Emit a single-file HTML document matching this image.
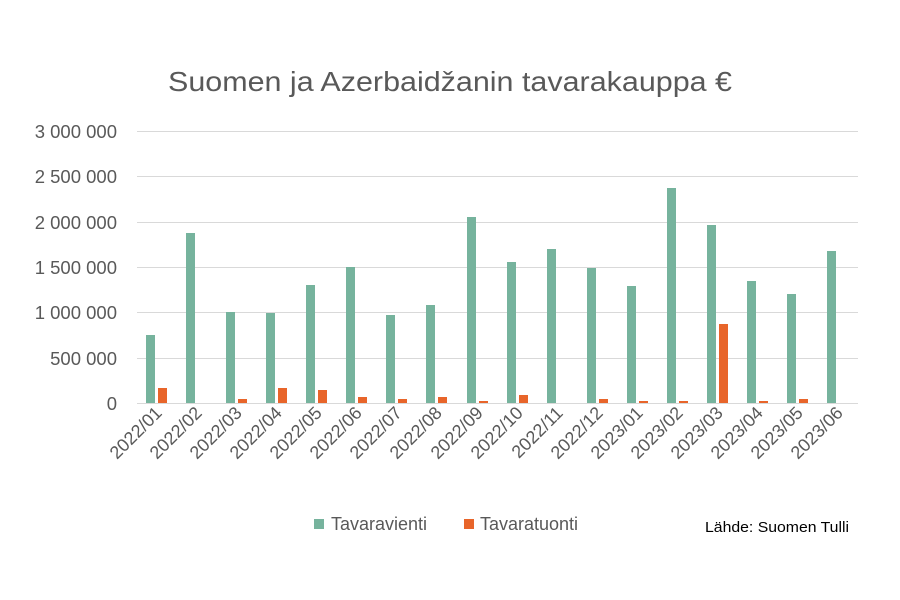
<!DOCTYPE html>
<html><head><meta charset="utf-8"><style>
body{margin:0;background:#fff}
svg{display:block;font-family:"Liberation Sans",sans-serif}
</style></head><body>
<svg width="900" height="600" viewBox="0 0 900 600">
<rect width="900" height="600" fill="#fff"/>
<text x="168" y="91" font-size="28" fill="#595959" textLength="564" lengthAdjust="spacingAndGlyphs">Suomen ja Azerbaidžanin tavarakauppa €</text>
<g stroke="#d9d9d9" stroke-width="1">
<line x1="137" x2="858" y1="131.5" y2="131.5"/>
<line x1="137" x2="858" y1="176.5" y2="176.5"/>
<line x1="137" x2="858" y1="222.5" y2="222.5"/>
<line x1="137" x2="858" y1="267.5" y2="267.5"/>
<line x1="137" x2="858" y1="312.5" y2="312.5"/>
<line x1="137" x2="858" y1="358.5" y2="358.5"/>
<line x1="137" x2="858" y1="403.5" y2="403.5"/>
</g>
<g font-size="18.5" fill="#595959" text-anchor="end">
<text x="117" y="138">3 000 000</text>
<text x="117" y="183">2 500 000</text>
<text x="117" y="229">2 000 000</text>
<text x="117" y="274">1 500 000</text>
<text x="117" y="319">1 000 000</text>
<text x="117" y="365">500 000</text>
<text x="117" y="410">0</text>
</g>
<g fill="#76b39d">
<rect x="146" y="335" width="9" height="68"/>
<rect x="186" y="233" width="9" height="170"/>
<rect x="226" y="312" width="9" height="91"/>
<rect x="266" y="313" width="9" height="90"/>
<rect x="306" y="285" width="9" height="118"/>
<rect x="346" y="267" width="9" height="136"/>
<rect x="386" y="315" width="9" height="88"/>
<rect x="426" y="305" width="9" height="98"/>
<rect x="467" y="217" width="9" height="186"/>
<rect x="507" y="262" width="9" height="141"/>
<rect x="547" y="249" width="9" height="154"/>
<rect x="587" y="268" width="9" height="135"/>
<rect x="627" y="286" width="9" height="117"/>
<rect x="667" y="188" width="9" height="215"/>
<rect x="707" y="225" width="9" height="178"/>
<rect x="747" y="281" width="9" height="122"/>
<rect x="787" y="294" width="9" height="109"/>
<rect x="827" y="251" width="9" height="152"/>
</g>
<g fill="#e8652a">
<rect x="158" y="388" width="9" height="15"/>
<rect x="238" y="399" width="9" height="4"/>
<rect x="278" y="388" width="9" height="15"/>
<rect x="318" y="390" width="9" height="13"/>
<rect x="358" y="397" width="9" height="6"/>
<rect x="398" y="399" width="9" height="4"/>
<rect x="438" y="397" width="9" height="6"/>
<rect x="479" y="401" width="9" height="2"/>
<rect x="519" y="395" width="9" height="8"/>
<rect x="599" y="399" width="9" height="4"/>
<rect x="639" y="401" width="9" height="2"/>
<rect x="679" y="401" width="9" height="2"/>
<rect x="719" y="324" width="9" height="79"/>
<rect x="759" y="401" width="9" height="2"/>
<rect x="799" y="399" width="9" height="4"/>
</g>
<g font-size="18" fill="#595959" text-anchor="end">
<text transform="translate(163,414) rotate(-45)">2022/01</text>
<text transform="translate(203,414) rotate(-45)">2022/02</text>
<text transform="translate(243,414) rotate(-45)">2022/03</text>
<text transform="translate(283,414) rotate(-45)">2022/04</text>
<text transform="translate(323,414) rotate(-45)">2022/05</text>
<text transform="translate(363,414) rotate(-45)">2022/06</text>
<text transform="translate(403,414) rotate(-45)">2022/07</text>
<text transform="translate(443,414) rotate(-45)">2022/08</text>
<text transform="translate(484,414) rotate(-45)">2022/09</text>
<text transform="translate(524,414) rotate(-45)">2022/10</text>
<text transform="translate(564,414) rotate(-45)">2022/11</text>
<text transform="translate(604,414) rotate(-45)">2022/12</text>
<text transform="translate(644,414) rotate(-45)">2023/01</text>
<text transform="translate(684,414) rotate(-45)">2023/02</text>
<text transform="translate(724,414) rotate(-45)">2023/03</text>
<text transform="translate(764,414) rotate(-45)">2023/04</text>
<text transform="translate(804,414) rotate(-45)">2023/05</text>
<text transform="translate(844,414) rotate(-45)">2023/06</text>
</g>
<rect x="314" y="519" width="10" height="10" fill="#76b39d"/>
<text x="331" y="530" font-size="18" fill="#595959">Tavaravienti</text>
<rect x="464" y="519" width="10" height="10" fill="#e8652a"/>
<text x="480" y="530" font-size="18" fill="#595959">Tavaratuonti</text>
<text x="705" y="532" font-size="15" fill="#000" textLength="144" lengthAdjust="spacingAndGlyphs">Lähde: Suomen Tulli</text>
</svg>
</body></html>
